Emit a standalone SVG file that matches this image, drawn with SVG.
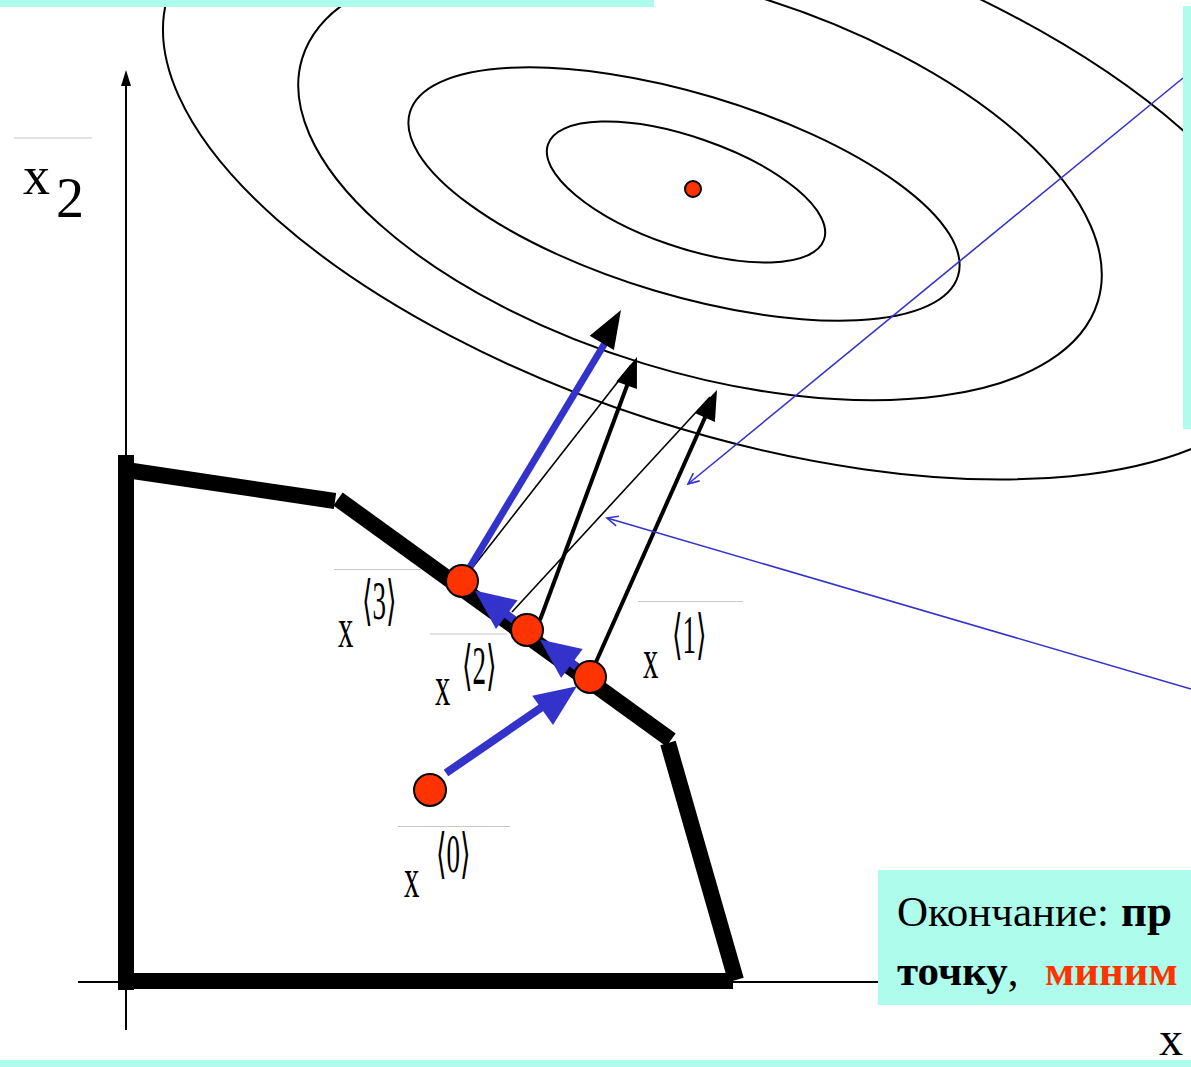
<svg xmlns="http://www.w3.org/2000/svg" width="1191" height="1067" viewBox="0 0 1191 1067">
<style>
.ell{fill:none;stroke:#000;stroke-width:2}
.bnd{stroke:#000;stroke-width:16;stroke-linecap:butt}
.pt{fill:#ff3300;stroke:#000;stroke-width:2}
.ovl{stroke:#c8c8c8;stroke-width:1.2}
.lbl{font-family:"Liberation Serif","DejaVu Serif",serif;fill:#000}
.thin{stroke:#000;stroke-width:1.6;fill:none}
.blue{fill:#3333cc}
.note{stroke:#3333cc;stroke-width:1.6;fill:none}
.cy{fill:#adfcec}
</style>
<defs>
<marker id="openArr" markerWidth="14" markerHeight="14" refX="12" refY="7" orient="auto" markerUnits="userSpaceOnUse">
<path d="M1,2 L12,7 L1,12" fill="none" stroke="#3333cc" stroke-width="1.6"/>
</marker>
</defs>
<rect width="1191" height="1067" fill="#fff"/>
<g id="contours">
<ellipse class="ell" cx="686" cy="192" rx="146" ry="55" transform="rotate(19 686 192)"/>
<ellipse class="ell" cx="684" cy="194" rx="286" ry="101" transform="rotate(16.6 684 194)"/>
<ellipse class="ell" cx="700" cy="180" rx="416" ry="192" transform="rotate(17 700 180)"/>
<ellipse class="ell" cx="730" cy="175" rx="590" ry="257" transform="rotate(17.9 730 175)"/>
<circle id="optimum" cx="693" cy="189" r="8" class="pt" stroke-width="1.5"/>
</g>
<g id="axes">
<line x1="126" y1="80" x2="126" y2="1030" stroke="#000" stroke-width="2"/>
<polygon points="126,70 121,86 131,86" fill="#000"/>
<line x1="78" y1="982" x2="880" y2="982" stroke="#000" stroke-width="2"/>
</g>
<g id="feasible-region">
<line class="bnd" x1="126" y1="455" x2="126" y2="990"/>
<line class="bnd" x1="126" y1="470" x2="335" y2="501"/>
<line class="bnd" x1="338" y1="499" x2="671" y2="740"/>
<line class="bnd" x1="668" y1="743" x2="736" y2="980"/>
<line class="bnd" x1="126" y1="981" x2="733" y2="981"/>
</g>
<g id="connectors">
<line class="thin" x1="473" y1="567" x2="631" y2="365"/>
<line class="thin" x1="512" y1="612" x2="710" y2="397"/>
<line x1="540" y1="620" x2="628" y2="383" stroke="#000" stroke-width="4"/>
<polygon points="637,357 616.3,381.4 636.9,389" fill="#000"/>
<line x1="596" y1="662" x2="707" y2="413" stroke="#000" stroke-width="4"/>
<polygon points="717,390 694.7,412.9 714.9,421.9" fill="#000"/>
<line x1="467" y1="572" x2="605" y2="343" stroke="#3333cc" stroke-width="7"/>
<polygon points="621,310 589.7,335.7 613.9,349.9" fill="#000"/>
<line x1="446" y1="773" x2="545" y2="705" stroke="#3333cc" stroke-width="8"/>
<polygon class="blue" points="576.9,686.2 553,725.1 532.2,695.7"/>
<line x1="577" y1="667" x2="570" y2="662" stroke="#3333cc" stroke-width="8"/>
<polygon class="blue" points="539.8,639.6 582.7,649.1 561.1,677.9"/>
<line x1="514" y1="620" x2="505" y2="613" stroke="#3333cc" stroke-width="8"/>
<polygon class="blue" points="474.8,590.6 517.6,600.3 496,629.1"/>
<line class="note" x1="1183" y1="78" x2="688" y2="484" marker-end="url(#openArr)"/>
<line class="note" x1="1191" y1="689" x2="607" y2="518" marker-end="url(#openArr)"/>
</g>
<g id="x0">
<circle class="pt" cx="430" cy="790" r="16"/>
<line class="ovl" x1="398" y1="826.5" x2="510" y2="826.5"/>
<text class="lbl" font-size="56" transform="translate(404 897) scale(0.55 1)">x</text>
<text class="lbl" font-size="54" transform="translate(436 872) scale(0.5 1)">⟨0⟩</text>
</g>
<g id="x1">
<circle class="pt" cx="590" cy="677" r="16"/>
<line class="ovl" x1="638" y1="601.5" x2="743" y2="601.5"/>
<text class="lbl" font-size="56" transform="translate(643 678) scale(0.55 1)">x</text>
<text class="lbl" font-size="54" transform="translate(672 653) scale(0.5 1)">⟨1⟩</text>
</g>
<g id="x2">
<circle class="pt" cx="527" cy="630" r="16"/>
<line class="ovl" x1="430" y1="634" x2="507" y2="634"/>
<text class="lbl" font-size="56" transform="translate(435 705) scale(0.55 1)">x</text>
<text class="lbl" font-size="54" transform="translate(462 684) scale(0.5 1)">⟨2⟩</text>
</g>
<g id="x3">
<circle class="pt" cx="462" cy="581" r="16"/>
<line class="ovl" x1="334" y1="569.5" x2="421" y2="569.5"/>
<text class="lbl" font-size="56" transform="translate(338 647) scale(0.55 1)">x</text>
<text class="lbl" font-size="54" transform="translate(362 619) scale(0.5 1)">⟨3⟩</text>
</g>
<g id="x2-axis-label">
<line class="ovl" x1="14" y1="138" x2="92" y2="138"/>
<text class="lbl" x="23" y="194" font-size="54">x</text>
<text class="lbl" x="56" y="217" font-size="56">2</text>
</g>
<g id="frame">
<rect class="cy" x="0" y="0" width="654" height="7"/>
<rect class="cy" x="1183" y="6" width="8" height="423"/>
<rect class="cy" x="0" y="1060" width="1191" height="7"/>
</g>
<g id="end-note">
<rect class="cy" x="878" y="870" width="313" height="135"/>
<text class="lbl" x="897" y="926" font-size="43">Окончание: <tspan x="1121" font-weight="bold" font-size="45">пр</tspan></text>
<text class="lbl" x="897" y="985" font-size="43"><tspan font-weight="bold">точку</tspan>, <tspan x="1045" font-weight="bold" fill="#ff3300">миним</tspan></text>
</g>
<text class="lbl" x="1159" y="1055" font-size="48">x</text>
</svg>
